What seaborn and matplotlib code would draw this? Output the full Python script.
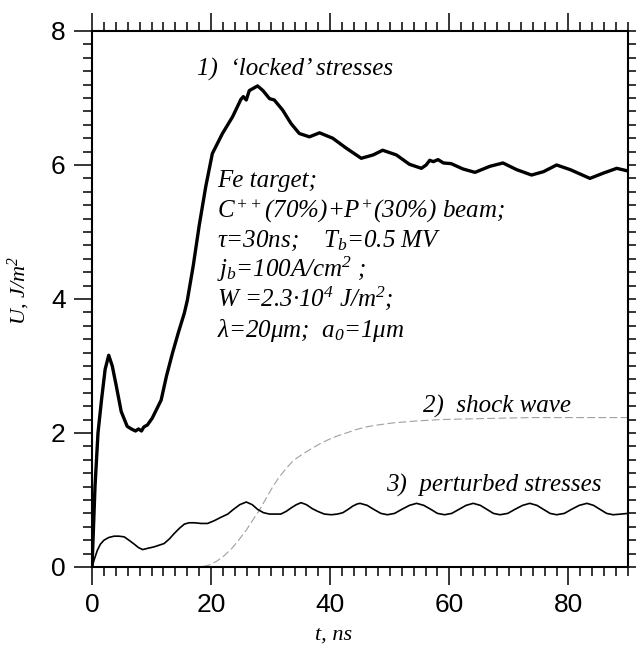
import numpy as np
import pandas as pd
import matplotlib
matplotlib.use('Agg')
import matplotlib.pyplot as plt
from matplotlib.ticker import MultipleLocator
import seaborn as sns

# 1) 'locked' stresses (thick line)
t_locked = [0, 0.5, 1.0, 1.6, 2.2, 2.8, 3.4, 4.1, 4.9, 5.9, 6.6, 7.3, 7.8, 8.3, 8.7,
            9.3, 10.1, 11.6, 12.5, 13.5, 14.5, 15.5, 16.0, 17.0, 18.0, 19.1, 20.2,
            21.9, 23.6, 25.0, 25.4, 25.9, 26.4, 27.8, 28.7, 29.8, 30.6, 32.0, 33.4,
            34.8, 36.5, 38.2, 40.4, 42.7, 45.2, 47.2, 48.8, 51.1, 53.3, 55.3, 56.1,
            56.7, 57.3, 58.1, 59.0, 60.3, 62.3, 64.3, 66.8, 69.0, 71.3, 73.8, 75.8,
            78.0, 80.3, 83.6, 85.9, 88.1, 90.0]
u_locked = [0, 1.2, 2.0, 2.5, 2.95, 3.16, 3.0, 2.69, 2.32, 2.1, 2.06, 2.03, 2.06, 2.03, 2.09,
            2.12, 2.22, 2.49, 2.85, 3.19, 3.5, 3.79, 3.98, 4.5, 5.1, 5.68, 6.17,
            6.47, 6.72, 6.98, 7.02, 6.97, 7.11, 7.18, 7.11, 6.99, 6.97, 6.82, 6.62,
            6.47, 6.42, 6.48, 6.40, 6.25, 6.10, 6.15, 6.22, 6.15, 6.01, 5.95, 6.0,
            6.07, 6.05, 6.08, 6.03, 6.02, 5.94, 5.89, 5.98, 6.03, 5.93, 5.85, 5.9,
            6.0, 5.93, 5.8, 5.88, 5.95, 5.91]

# 2) shock wave (dashed grey)
t_shock = [0, 18.3, 19.7, 21.0, 22.2, 23.5, 24.7, 25.9, 27.0, 28.1, 29.2, 30.3, 31.4,
           32.6, 33.5, 34.3, 35.6, 37.1, 38.5, 39.9, 41.3, 42.7, 44.3, 46.0, 48.0,
           50.5, 54.5, 58.5, 63.0, 68.0, 74.0, 82.0, 90.0]
u_shock = [0, 0, 0.03, 0.09, 0.17, 0.28, 0.41, 0.55, 0.70, 0.85, 1.02, 1.19, 1.34,
           1.47, 1.56, 1.62, 1.70, 1.78, 1.85, 1.91, 1.96, 2.00, 2.05, 2.09, 2.12,
           2.15, 2.18, 2.20, 2.21, 2.22, 2.23, 2.23, 2.23]

# 3) perturbed stresses (thin line)
t_pert = [0, 0.4, 0.9, 1.4, 2.0, 2.8, 3.7, 4.5, 5.4, 6.2, 7.1, 7.8, 8.5, 9.4, 10.4,
          12.1, 13.0, 13.8, 14.7, 15.5, 16.3, 17.2, 18.3, 19.4, 20.5, 21.6, 22.8,
          23.6, 24.8, 25.9, 26.9, 27.8, 28.8, 29.8, 31.7, 32.6, 33.4, 34.3, 35.1,
          36.0, 37.0, 37.9, 39.0, 40.2, 41.2, 42.1, 43.0, 43.8, 44.5,
          45.0, 46.2, 47.3, 48.5, 49.6, 50.8, 52.0, 53.3, 54.5, 55.7, 56.9, 58.0,
          59.2, 60.4, 61.6, 62.8, 64.0, 65.2, 66.3, 67.4, 68.5, 69.8, 71.0, 72.3,
          73.5, 74.7, 75.8, 76.9, 78.0, 79.3, 80.5, 81.8, 83.1, 84.2, 85.3, 86.4,
          87.5, 88.8, 90.0]
u_pert = [0, 0.12, 0.25, 0.34, 0.40, 0.44, 0.46, 0.46, 0.45, 0.40, 0.34, 0.29, 0.26, 0.28, 0.30,
          0.35, 0.42, 0.50, 0.58, 0.64, 0.66, 0.66, 0.65, 0.65, 0.69, 0.74, 0.79,
          0.85, 0.93, 0.97, 0.93, 0.86, 0.81, 0.79, 0.79, 0.83, 0.88, 0.93, 0.96,
          0.93, 0.87, 0.83, 0.79, 0.78, 0.79, 0.81, 0.86, 0.91, 0.94,
          0.95, 0.92, 0.86, 0.80, 0.78, 0.80, 0.86, 0.92, 0.95, 0.92, 0.86, 0.80,
          0.78, 0.80, 0.86, 0.92, 0.95, 0.92, 0.86, 0.80, 0.78, 0.80, 0.86, 0.92,
          0.95, 0.92, 0.86, 0.80, 0.78, 0.80, 0.86, 0.92, 0.95, 0.92, 0.86, 0.80,
          0.78, 0.79, 0.80]

x_ticks = [0, 20, 40, 60, 80]
y_ticks = [0, 2, 4, 6, 8]

sns.set_theme(style="ticks")
plt.rcParams.update({
    'font.family': ['Liberation Sans', 'DejaVu Sans'],
    'mathtext.fontset': 'custom',
    'mathtext.rm': 'Liberation Serif:italic',
    'mathtext.it': 'Liberation Serif:italic',
    'mathtext.bf': 'Liberation Serif:bold:italic',
    'axes.linewidth': 1.5,
    'axes.edgecolor': 'black',
})

fig = plt.figure(figsize=(6.36, 6.48), dpi=100)
ax = fig.add_axes([0.1447, 0.125, 0.8428, 0.8272])

sns.lineplot(x=t_shock, y=u_shock, ax=ax, color='#a0a0a0', lw=0.8,
             linestyle=(0, (7, 3)), estimator=None, sort=False)
sns.lineplot(x=t_pert, y=u_pert, ax=ax, color='black', lw=1.2,
             estimator=None, sort=False)
sns.lineplot(x=t_locked, y=u_locked, ax=ax, color='black', lw=2.4,
             estimator=None, sort=False)

ax.set_xlim(0, 90)
ax.set_ylim(0, 8)
ax.set_xticks(x_ticks)
ax.set_yticks(y_ticks)
ax.xaxis.set_minor_locator(MultipleLocator(2))
ax.yaxis.set_minor_locator(MultipleLocator(0.2))
ax.tick_params(which='both', direction='out', top=True, right=True,
               width=1.1, color='black', labelcolor='black')
ax.tick_params(which='major', length=13, labelsize=19, pad=6)
ax.tick_params(which='minor', length=6.5)

serif = dict(fontfamily='Liberation Serif', fontstyle='italic', color='black')
ax.set_xlabel('t, ns', fontsize=16, **serif)
ax.set_ylabel(r'U, J/m$^2$', fontsize=16, **serif)
ax.xaxis.set_label_coords(0.45, -0.127)
ax.xaxis.label.set_va('center')
ax.yaxis.set_label_coords(-0.136, 0.515)
ax.yaxis.label.set_va('center')

ax.text(17.6, 7.33, "1)  \u2018locked\u2019 stresses", fontsize=18, va='baseline', **serif)
ax.text(55.6, 2.30, "2)  shock wave", fontsize=18, va='baseline', **serif)
ax.text(49.4, 1.12, "3)  perturbed stresses", fontsize=18, va='baseline', **serif)

params = [
    "Fe target;",
    r"$C^{++}$(70%)+$P^{+}$(30%) beam;",
    "\u03c4=30ns;    $T_b$=0.5 MV",
    r"$j_b$=100A/cm$^2$ ;",
    "$W$ =2.3\u00b710$^4$ J/m$^2$;",
    "\u03bb=20\u03bcm;  $a_0$=1\u03bcm",
]
baselines = [5.67, 5.22, 4.78, 4.33, 3.90, 3.43]
for line, yb in zip(params, baselines):
    ax.text(21.0, yb, line, fontsize=18, va='baseline', **serif)

fig.savefig('out.png', dpi=100)
